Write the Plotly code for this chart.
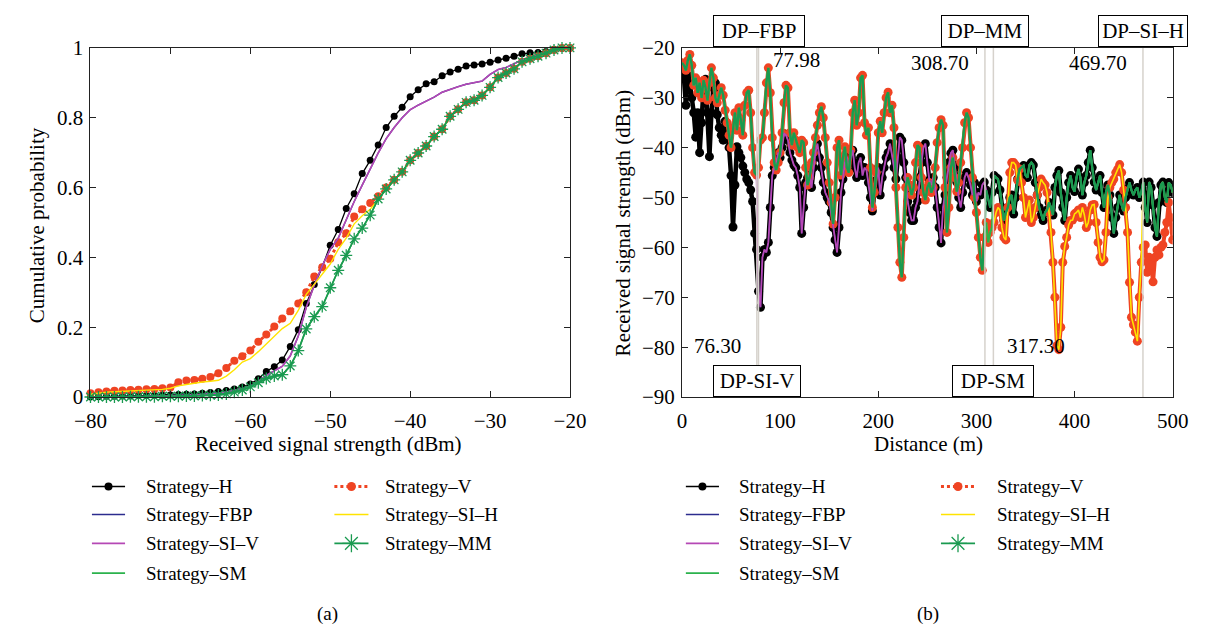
import plotly.graph_objects as go

W, H = 1214, 641

# ---------------- (a) cumulative distributions ----------------
SIGNAL_DBM = list(range(-80, -19))

CDF_H = [
    0.000, 0.001, 0.002, 0.002, 0.003, 0.003, 0.004, 0.004, 0.005, 0.005,
    0.006, 0.007, 0.008, 0.009, 0.011, 0.013, 0.016, 0.019, 0.023, 0.029,
    0.037, 0.052, 0.073, 0.087, 0.106, 0.145, 0.193, 0.268, 0.322, 0.372,
    0.435, 0.480, 0.540, 0.582, 0.640, 0.678, 0.722, 0.772, 0.804, 0.830,
    0.860, 0.880, 0.897, 0.903, 0.920, 0.931, 0.939, 0.948, 0.951, 0.954,
    0.959, 0.965, 0.970, 0.976, 0.983, 0.986, 0.987, 0.990, 0.996, 0.999,
    1.000]
CDF_V = [
    0.011, 0.014, 0.016, 0.018, 0.019, 0.020, 0.021, 0.022, 0.023, 0.025,
    0.027, 0.042, 0.047, 0.049, 0.052, 0.057, 0.068, 0.083, 0.104, 0.117,
    0.133, 0.158, 0.179, 0.202, 0.225, 0.246, 0.268, 0.300, 0.345, 0.372,
    0.396, 0.443, 0.469, 0.517, 0.538, 0.556, 0.575, 0.600, 0.622, 0.645,
    0.678, 0.699, 0.719, 0.746, 0.767, 0.804, 0.824, 0.844, 0.850, 0.864,
    0.887, 0.915, 0.928, 0.940, 0.960, 0.969, 0.976, 0.985, 0.994, 1.000,
    1.000]
CDF_SI_V = [
    0.000, 0.000, 0.001, 0.001, 0.001, 0.002, 0.002, 0.002, 0.003, 0.003,
    0.004, 0.004, 0.005, 0.006, 0.007, 0.009, 0.011, 0.014, 0.018, 0.024,
    0.031, 0.045, 0.062, 0.074, 0.088, 0.118, 0.175, 0.257, 0.320, 0.376,
    0.423, 0.455, 0.510, 0.560, 0.607, 0.653, 0.699, 0.740, 0.772, 0.800,
    0.823, 0.836, 0.847, 0.859, 0.873, 0.882, 0.889, 0.896, 0.900, 0.905,
    0.924, 0.938, 0.944, 0.954, 0.965, 0.972, 0.978, 0.986, 0.993, 1.000,
    1.000]
CDF_FBP = list(CDF_SI_V)
CDF_SI_H = [
    0.008, 0.012, 0.014, 0.015, 0.016, 0.017, 0.018, 0.019, 0.020, 0.022,
    0.025, 0.032, 0.036, 0.040, 0.043, 0.045, 0.048, 0.060, 0.078, 0.100,
    0.110, 0.130, 0.152, 0.175, 0.196, 0.211, 0.248, 0.294, 0.324, 0.351,
    0.381, 0.423, 0.455, 0.496, 0.519, 0.538, 0.565, 0.596, 0.622, 0.645,
    0.678, 0.699, 0.719, 0.746, 0.767, 0.804, 0.824, 0.844, 0.850, 0.864,
    0.887, 0.915, 0.928, 0.940, 0.960, 0.969, 0.976, 0.985, 0.994, 1.000,
    1.000]
CDF_MM = [
    0.000, 0.000, 0.000, 0.000, 0.000, 0.001, 0.001, 0.001, 0.001, 0.002,
    0.002, 0.002, 0.003, 0.003, 0.004, 0.005, 0.006, 0.009, 0.014, 0.020,
    0.029, 0.041, 0.053, 0.060, 0.064, 0.089, 0.133, 0.195, 0.230, 0.259,
    0.313, 0.363, 0.406, 0.453, 0.484, 0.521, 0.567, 0.596, 0.622, 0.645,
    0.678, 0.699, 0.719, 0.746, 0.767, 0.804, 0.824, 0.844, 0.850, 0.864,
    0.887, 0.915, 0.928, 0.940, 0.960, 0.969, 0.976, 0.985, 0.994, 1.000,
    1.000]
CDF_SM = list(CDF_MM)

# ---------------- (b) received signal along the route ----------------
DISTANCE_M = list(range(0, 501, 2))

RSS_H = [
    -23.5, -26.0, -31.5, -25.5, -27.0, -30.0, -33.0, -37.9, -33.0, -41.0,
    -35.0, -28.0, -26.3, -33.0, -41.8, -33.0, -28.0, -27.0, -33.4, -36.0,
    -37.5, -38.5, -34.7, -37.0, -40.0, -45.6, -55.9, -47.5, -39.8, -41.0,
    -42.0, -43.7, -45.0, -46.3, -47.0, -48.5, -50.8, -57.2, -60.4, -68.8,
    -72.0, -62.0, -60.4, -61.0, -59.0, -52.0, -45.6, -44.0, -43.0, -41.0,
    -42.0, -40.0, -37.2, -37.5, -38.5, -41.0, -42.5, -43.5, -44.0, -45.6,
    -48.0, -57.2, -52.0, -47.0, -46.0, -45.5, -48.0, -44.0, -41.0, -39.2,
    -42.0, -44.0, -47.0, -49.0, -50.0, -50.8, -53.0, -56.0, -58.5, -61.0,
    -56.0, -49.0, -46.3, -43.0, -41.8, -44.0, -42.0, -40.5, -44.0, -46.0,
    -43.0, -42.0, -45.6, -44.0, -44.5, -47.0, -50.0, -52.7, -49.0, -46.5,
    -44.0, -49.5, -46.0, -44.0, -42.0, -41.0, -39.2, -41.5, -44.0, -46.3,
    -42.0, -37.9, -38.5, -43.0, -46.0, -50.8, -53.0, -54.6, -54.6, -52.0,
    -50.8, -46.0, -43.0, -40.0, -39.2, -43.0, -46.5, -47.5, -46.0, -48.0,
    -52.0, -56.0, -59.1, -52.0, -49.5, -46.0, -43.0, -41.1, -40.5, -44.0,
    -46.9, -50.0, -52.0, -49.0, -46.0, -45.0, -46.0, -47.5, -49.5, -47.0,
    -50.8, -49.0, -49.5, -47.5, -46.9, -48.5, -50.0, -52.0, -49.0, -45.6,
    -46.0, -46.3, -48.5, -52.0, -54.6, -53.0, -52.0, -50.0, -49.5, -53.3,
    -50.0, -46.3, -44.3, -44.0, -43.6, -45.5, -46.0, -43.5, -43.0, -43.5,
    -47.0, -49.5, -52.0, -53.5, -54.6, -53.0, -52.5, -51.0, -52.0, -53.5,
    -48.0, -45.6, -44.6, -49.0, -52.0, -54.6, -50.0, -47.0, -45.6, -48.0,
    -48.8, -46.0, -44.3, -46.0, -49.5, -47.0, -45.6, -43.0, -40.5, -44.0,
    -46.9, -48.5, -47.0, -45.6, -49.0, -52.0, -49.0, -47.5, -49.5, -54.0,
    -57.2, -54.0, -52.0, -49.5, -51.5, -52.7, -50.0, -48.2, -47.0, -48.5,
    -49.5, -48.5, -48.0, -50.0, -49.0, -46.9, -52.0, -55.0, -46.9, -48.0,
    -51.5, -56.0, -57.8, -51.0, -47.5, -46.9, -50.0, -51.0, -47.0, -47.5,
    -49.0]

RSS_V = [
    -23.0, -23.5, -24.5, -22.5, -21.3, -23.5, -27.5, -26.0, -29.0, -27.0,
    -30.0, -26.5, -28.0, -30.5, -27.0, -24.0, -26.0, -30.0, -31.0, -29.5,
    -28.0, -29.5, -32.5, -35.0, -37.5, -40.0, -36.0, -33.0, -36.5, -32.0,
    -34.5, -37.5, -31.5, -29.0, -28.5, -33.0, -40.0, -45.0, -45.5, -44.0,
    -38.5, -38.0, -33.0, -27.0, -24.0, -29.0, -38.0, -43.0, -44.5, -43.0,
    -41.0, -37.0, -31.0, -27.5, -28.0, -37.0, -39.5, -37.0, -38.5, -40.0,
    -41.0, -38.5, -39.0, -44.0, -47.5, -46.0, -43.0, -41.0, -38.0, -35.5,
    -33.0, -31.8, -34.0, -38.0, -43.0, -47.0, -51.0, -55.3, -50.0, -40.0,
    -38.5, -45.5, -42.0, -39.8, -44.0, -45.0, -40.5, -33.0, -30.5, -35.5,
    -33.0, -26.0, -25.5, -35.0, -37.5, -36.0, -44.0, -52.0, -49.0, -45.0,
    -37.0, -34.7, -37.0, -33.0, -30.0, -28.9, -33.0, -31.5, -36.0, -48.0,
    -56.0, -63.0, -66.0, -58.0, -48.0, -46.0, -47.5, -49.5, -48.0, -43.0,
    -39.5, -40.0, -46.0, -49.0, -50.5, -48.0, -47.0, -49.0, -48.0, -44.0,
    -39.0, -36.0, -34.4, -35.5, -48.0, -57.0, -52.0, -44.0, -42.0, -46.0,
    -48.8, -47.0, -43.0, -40.0, -35.0, -33.0, -34.0, -40.0, -46.0, -50.0,
    -53.0, -58.0, -62.0, -64.6, -58.0, -55.0, -59.0, -57.0, -56.0, -55.0,
    -53.0, -52.0, -52.5, -56.0, -58.0, -58.5, -52.0, -45.0, -43.0, -43.0,
    -43.5, -46.5, -44.3, -47.0, -50.0, -54.0, -52.0, -50.5, -55.0, -54.0,
    -52.0, -49.5, -48.0, -46.3, -47.0, -47.5, -49.0, -53.0, -57.0, -63.0,
    -70.0, -79.7, -80.5, -76.0, -63.0, -59.8, -58.0, -55.5, -54.6, -54.5,
    -53.3, -53.0, -52.5, -54.0, -52.0, -53.5, -56.0, -55.0, -52.5, -51.5,
    -51.4, -55.0, -59.0, -62.0, -62.9, -62.5, -57.0, -50.0, -48.0, -47.0,
    -46.3, -45.0, -44.3, -43.4, -45.0, -48.5, -52.0, -57.0, -67.0, -74.0,
    -75.5, -77.0, -78.8, -70.0, -63.0, -60.0, -59.5, -65.0, -62.0, -63.5,
    -66.9, -62.0, -60.5, -61.5, -60.0, -59.5, -57.0, -55.0, -51.0, -54.0,
    -58.5]

# Decision points (distance in m) where a strategy leaves V for H
DP_FBP, DP_SI_V, DP_MM, DP_SM, DP_SI_H = 77.98, 76.30, 308.70, 317.30, 469.70

STRATEGY_NAMES = ["Strategy–H", "Strategy–FBP", "Strategy–SI–V", "Strategy–SM",
                  "Strategy–V", "Strategy–SI–H", "Strategy–MM"]

FONT = "Liberation Serif"
BLACK, RED, BLUE = "#000000", "#ef4423", "#2c2c8e"
PURPLE, YELLOW = "#b548b5", "#ffe300"
GREEN_SM, GREEN_MM = "#2bb24c", "#1a9a50"
GRAY_LINE = "#d6d2cc"


def px(x, y):
    """pixel position -> paper coordinates"""
    return x / W, 1 - y / H


def font(size):
    return dict(family=FONT, size=size, color=BLACK)


def switched(dp):
    return [v if d < dp else h for d, h, v in zip(DISTANCE_M, RSS_H, RSS_V)]


fig = go.Figure()

# ---- panel (a)
cdf_specs = [
    (CDF_H, dict(color=BLACK, width=1.3), dict(symbol="circle", size=7, color=BLACK)),
    (CDF_V, dict(color=RED, width=3, dash="dot"), dict(symbol="circle", size=8, color=RED)),
    (CDF_FBP, dict(color=BLUE, width=1.4), None),
    (CDF_SI_V, dict(color=PURPLE, width=1.6), None),
    (CDF_SI_H, dict(color=YELLOW, width=1.4), None),
    (CDF_SM, dict(color=GREEN_SM, width=1.6), None),
    (CDF_MM, dict(color=GREEN_MM, width=1.6),
     dict(symbol="asterisk-open", size=10, color=GREEN_MM,
          line=dict(color=GREEN_MM, width=1.3))),
]
for vals, line, marker in cdf_specs:
    fig.add_trace(go.Scatter(
        x=SIGNAL_DBM, y=vals, mode="lines+markers" if marker else "lines",
        line=line, marker=marker, cliponaxis=False, showlegend=False,
        xaxis="x", yaxis="y"))

# ---- panel (b): measured H and V signals, then the switched strategies
fig.add_trace(go.Scatter(x=DISTANCE_M, y=RSS_H, mode="lines+markers",
                         line=dict(color=BLACK, width=4.5),
                         marker=dict(size=9, color=BLACK),
                         showlegend=False, xaxis="x2", yaxis="y2"))
fig.add_trace(go.Scatter(x=DISTANCE_M, y=RSS_V, mode="lines+markers",
                         line=dict(color=RED, width=4),
                         marker=dict(size=9, color=RED),
                         showlegend=False, xaxis="x2", yaxis="y2"))
for dp, color, width in [(DP_FBP, BLUE, 1.4), (DP_SI_V, PURPLE, 1.8),
                         (DP_SI_H, YELLOW, 1.6), (DP_SM, GREEN_SM, 2.2),
                         (DP_MM, GREEN_MM, 2.2)]:
    fig.add_trace(go.Scatter(x=DISTANCE_M, y=switched(dp), mode="lines",
                             line=dict(color=color, width=width),
                             showlegend=False, xaxis="x2", yaxis="y2"))

# ---- legends, drawn on a full-page helper axis in pixel units
legend_rows = [493, 522, 552, 583]
legend_cols = {"a": [(78, 112, 131), (327, 362, 377)],
               "b": [(688, 722, 741), (950, 985, 1005)]}
legend_style = {
    "Strategy–H": (dict(color=BLACK, width=1.5), dict(symbol="circle", size=8, color=BLACK)),
    "Strategy–V": (dict(color=RED, width=3, dash="dot"), dict(symbol="circle", size=9, color=RED)),
    "Strategy–FBP": (dict(color=BLUE, width=1.6), None),
    "Strategy–SI–H": (dict(color=YELLOW, width=1.6), None),
    "Strategy–SI–V": (dict(color=PURPLE, width=1.6), None),
    "Strategy–MM": (dict(color=GREEN_MM, width=1.6),
                    dict(symbol="asterisk-open", size=15, color=GREEN_MM,
                         line=dict(color=GREEN_MM, width=1.3))),
    "Strategy–SM": (dict(color=GREEN_SM, width=1.6), None),
}
annotations = []
for panel, cols in legend_cols.items():
    for i, name in enumerate(STRATEGY_NAMES):
        col = 0 if i < 4 else 1
        row = i if i < 4 else i - 4
        x0, x1, xt = cols[col]
        y = legend_rows[row]
        line, marker = legend_style[name]
        fig.add_trace(go.Scatter(x=[x0, x1], y=[y, y], mode="lines", line=line,
                                 showlegend=False, xaxis="x3", yaxis="y3",
                                 hoverinfo="skip"))
        if marker:
            fig.add_trace(go.Scatter(x=[(x0 + x1) / 2], y=[y], mode="markers",
                                     marker=marker, showlegend=False,
                                     xaxis="x3", yaxis="y3", hoverinfo="skip"))
        ax, ay = px(xt, y)
        annotations.append(dict(x=ax, y=ay, xref="paper", yref="paper",
                                text=name, showarrow=False, xanchor="left",
                                yanchor="middle", font=font(19)))

# ---- axis titles and captions
for text, x, y, angle, size in [
        ("Cumulative probability", 21, 221, -90, 21),
        ("Received signal strength (dBm)", 623, 219, -90, 21),
        ("Received signal strength (dBm)", 321, 449, 0, 21),
        ("Distance (m)", 937, 449, 0, 21),
        ("(a)", 320, 625, 0, 19),
        ("(b)", 937, 625, 0, 19)]:
    ax, ay = px(x, y)
    annotations.append(dict(x=ax, y=ay, xref="paper", yref="paper", text=text,
                            showarrow=False, textangle=angle, xanchor="center",
                            yanchor="middle", font=font(size)))

# ---- decision-point markers in panel (b)
shapes = []
for dp in [DP_SI_V, DP_FBP, DP_MM, DP_SM, DP_SI_H]:
    shapes.append(dict(type="line", xref="x2", yref="y2", x0=dp, x1=dp,
                       y0=-90, y1=-20, layer="above",
                       line=dict(color=GRAY_LINE, width=1.5)))

box_top = 1 - 20 / H
box_bottom = 1 - 383 / H
for label, dp, yb, width in [("DP–FBP", DP_FBP, box_top, 84),
                             ("DP–MM", DP_MM, box_top, 80),
                             ("DP–SI–H", DP_SI_H, box_top, 82),
                             ("DP-SI-V", DP_SI_V, box_bottom, 80),
                             ("DP-SM", DP_SM, box_bottom, 74)]:
    annotations.append(dict(x=dp, y=yb, xref="x2", yref="paper", text=label,
                            showarrow=False, xanchor="center", yanchor="middle",
                            bgcolor="white", bordercolor=BLACK, borderwidth=1,
                            borderpad=3, width=width, height=24,
                            font=font(21)))

for dp, y, side in [(DP_FBP, 50, "left"), (DP_MM, 53, "right"),
                    (DP_SI_H, 53, "right"), (DP_SI_V, 347, "right"),
                    (DP_SM, 347, "left")]:
    annotations.append(dict(x=dp, y=1 - y / H, xref="x2", yref="paper",
                            text=f"{dp:.2f}", showarrow=False,
                            xanchor=side, yanchor="middle",
                            xshift=12 if side == "left" else -14,
                            font=font(21)))

axis_common = dict(showline=True, linecolor="#222222", linewidth=1, mirror="ticks",
                   ticks="inside", ticklen=6, tickwidth=1, tickcolor="#222222",
                   showgrid=False, zeroline=False,
                   tickfont=font(21))

y_dom = [1 - 400 / H, 1 - 37.3 / H]
fig.update_layout(
    width=W, height=H, margin=dict(l=0, r=0, t=0, b=0),
    paper_bgcolor="white", plot_bgcolor="rgba(0,0,0,0)",
    font=font(19),
    showlegend=False,
    xaxis=dict(domain=[76.5 / W, 569 / W], range=[-80, -20], anchor="y",
               tickvals=[-80, -70, -60, -50, -40, -30, -20],
               ticktext=["−80", "−70", "−60", "−50", "−40", "−30", "−20"],
               ticklabelstandoff=5, **axis_common),
    yaxis=dict(domain=y_dom, range=[0, 1], anchor="x",
               tickvals=[0, 0.2, 0.4, 0.6, 0.8, 1],
               ticktext=["0", "0.2", "0.4", "0.6", "0.8", "1"],
               ticklabelstandoff=2, **axis_common),
    xaxis2=dict(domain=[684 / W, 1188 / W], range=[0, 500], anchor="y2",
                tickvals=[0, 100, 200, 300, 400, 500], ticklabelstandoff=5,
                **axis_common),
    yaxis2=dict(domain=y_dom, range=[-90, -20], anchor="x2",
                tickvals=[-20, -30, -40, -50, -60, -70, -80, -90],
                ticktext=["−20", "−30", "−40", "−50", "−60", "−70", "−80", "−90"],
                ticklabelstandoff=2, **axis_common),
    xaxis3=dict(domain=[0, 1], range=[0, W], anchor="y3", visible=False,
                fixedrange=True),
    yaxis3=dict(domain=[0, 1], range=[H, 0], anchor="x3", visible=False,
                fixedrange=True),
    annotations=annotations,
    shapes=shapes,
)

fig.write_html("out.html")
